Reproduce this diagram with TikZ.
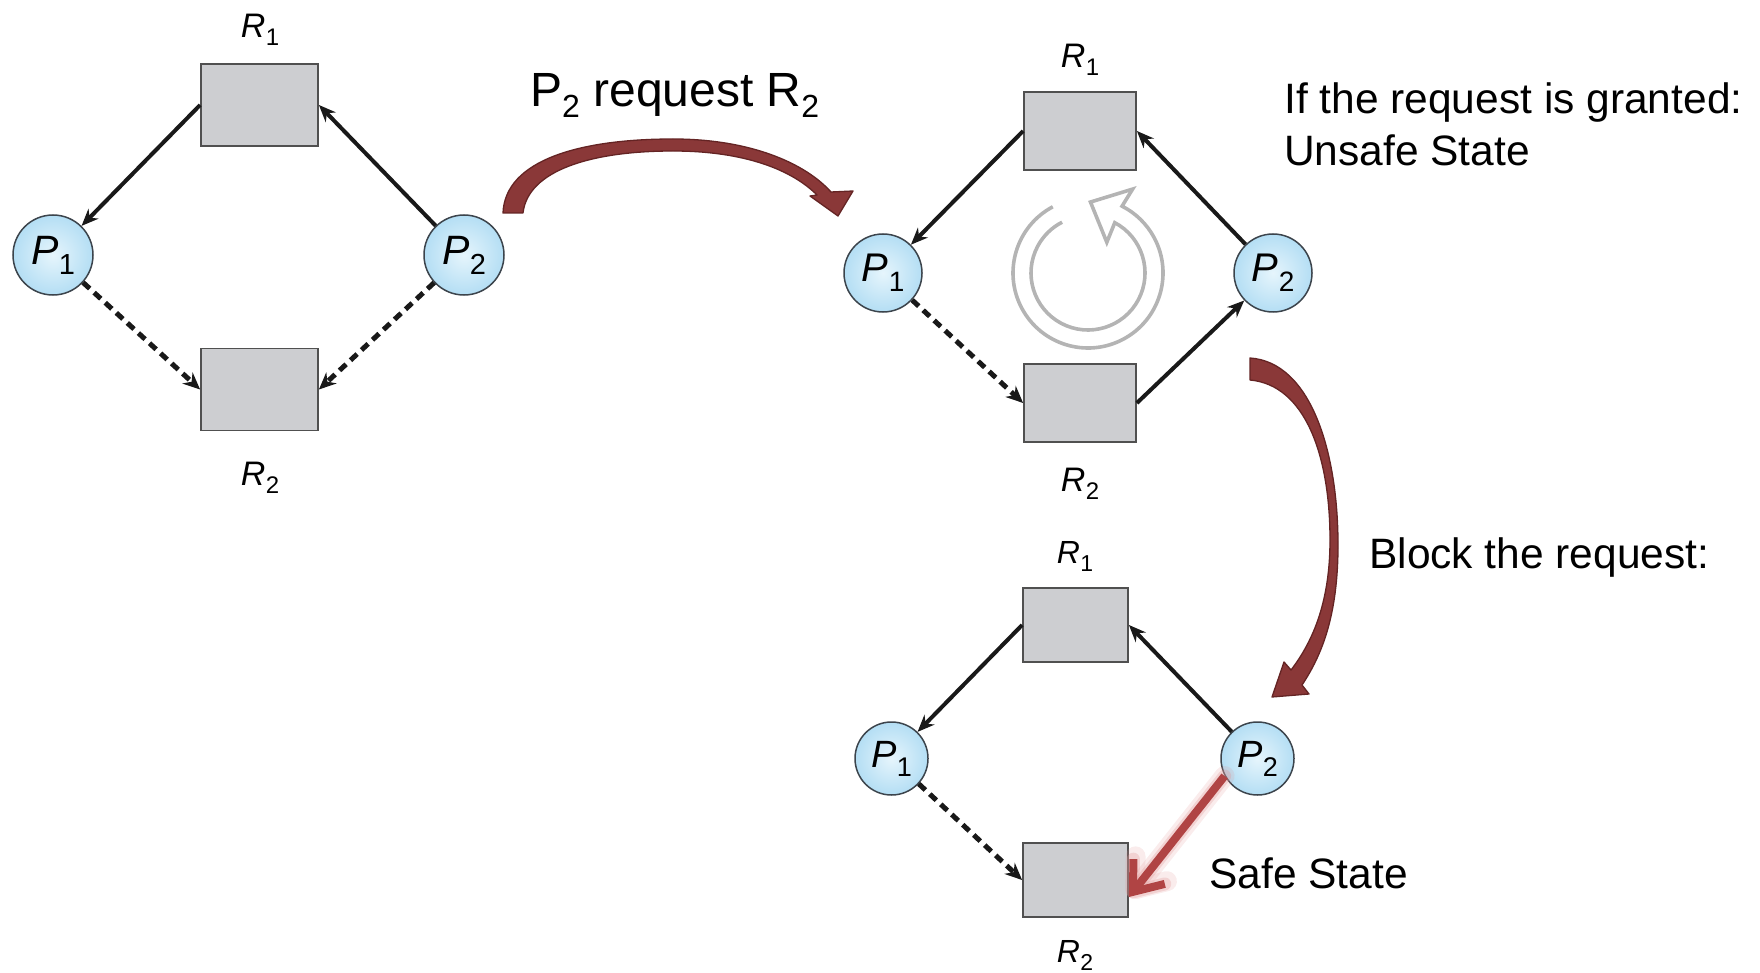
\documentclass[tikz,border=0pt]{standalone}
\usepackage{fontspec}
\setmainfont{Liberation Sans}
\usetikzlibrary{arrows.meta,calc}
\definecolor{boxfill}{RGB}{205,206,209}
\definecolor{boxline}{RGB}{80,80,80}
\definecolor{procin}{RGB}{230,245,252}
\definecolor{procout}{RGB}{180,222,244}
\definecolor{procline}{RGB}{60,68,76}
\definecolor{bigred}{RGB}{138,56,56}
\definecolor{bigredline}{RGB}{100,36,36}
\definecolor{safered}{RGB}{176,68,68}
\definecolor{glowred}{RGB}{225,150,150}
\definecolor{cyclegray}{RGB}{180,180,180}
\definecolor{edgeblack}{RGB}{25,25,25}
\newcommand\lab[5]{{\fontsize{#3}{#3}\selectfont\itshape #1}\kern0.5pt\raisebox{-#5pt}{\fontsize{#4}{#4}\selectfont #2}}
\newcommand\sbs[1]{\raisebox{-11pt}{\fontsize{32}{32}\selectfont #1}}
\begin{document}
\begin{tikzpicture}[x=1pt,y=-1pt,
  resA/.style={draw=boxline,line width=1.8pt,fill=boxfill,minimum width=117pt,minimum height=82pt,inner sep=0pt},
  resB/.style={resA,minimum width=112pt,minimum height=78pt},
  resC/.style={resA,minimum width=105pt,minimum height=74pt},
  procA/.style={circle,draw=procline,line width=1.5pt,inner color=procin,outer color=procout,minimum size=80pt,inner sep=0pt},
  procB/.style={procA,minimum size=78pt},
  procC/.style={procA,minimum size=73pt},
  lbl/.style={inner sep=0pt},
  held/.style={edgeblack,line width=4pt,-{Stealth[length=17pt,width=14pt]}},
  req/.style={edgeblack,line width=5pt,dash pattern=on 9pt off 6pt,-{Stealth[length=17pt,width=15pt]}},
  bigtext/.style={font=\fontsize{42.5}{51}\selectfont,anchor=base west,inner sep=0pt},
  titletext/.style={font=\fontsize{48}{56}\selectfont,anchor=base west,inner sep=0pt},
  bigarrow/.style={fill=bigred,draw=bigredline,line width=1.3pt,line join=round},
  safe/.style={line width=8pt,safered,-{Straight Barb[length=26pt,width=40pt]}},
  glowA/.style={line width=20pt,glowred,opacity=0.18,line cap=round,-{Straight Barb[length=26pt,width=40pt,round]}},
  glowB/.style={line width=13pt,glowred,opacity=0.3,line cap=round,-{Straight Barb[length=26pt,width=40pt,round]}}
]
\useasboundingbox (0,0) rectangle (1760,973);

% ---------- diagram 1 ----------
\node[resA] (A-R1) at (259.5,105) {};
\node[resA] (A-R2) at (259.5,389.5) {};
\node[procA] (A-P1) at (53,255) {\lab{P}{1}{41}{29}{10}};
\node[procA] (A-P2) at (464,255) {\lab{P}{2}{41}{29}{10}};
\node[lbl] (A-L1) at (260,30) {\lab{R}{1}{34}{24}{8}};
\node[lbl] (A-L2) at (260,478) {\lab{R}{2}{34}{24}{8}};
\draw[held] (A-R1.west) -- (A-P1);
\draw[held] (A-P2) -- (A-R1.east);
\draw[req] (A-P1) -- (A-R2.west);
\draw[req] (A-P2) -- (A-R2.east);

% ---------- diagram 2 ----------
\node[resB] (B-R1) at (1080,131) {};
\node[resB] (B-R2) at (1080,403) {};
\node[procB] (B-P1) at (883,273) {\lab{P}{1}{40}{28}{10}};
\node[procB] (B-P2) at (1273,273) {\lab{P}{2}{40}{28}{10}};
\node[lbl] (B-L1) at (1080,60) {\lab{R}{1}{34}{24}{8}};
\node[lbl] (B-L2) at (1080,484) {\lab{R}{2}{34}{24}{8}};
\draw[held] (B-R1.west) -- (B-P1);
\draw[held] (B-P2) -- (B-R1.east);
\draw[req] (B-P1) -- (B-R2.west);
\draw[held] (B-R2.east) -- (B-P2);
\coordinate (cyc) at (1088,273);
\draw[cyclegray,line width=3.6pt,line join=miter]
  ($(cyc)+(-118:75)$) arc[start angle=-118,end angle=-423,radius=75]
  -- ($(cyc)+(-62:95)$) -- ($(cyc)+(-88:71)$) -- ($(cyc)+(-58.5:36)$)
  -- ($(cyc)+(-62:57)$) arc[start angle=-422,end angle=-117,radius=57];

% ---------- diagram 3 ----------
\node[resC] (C-R1) at (1075.5,625) {};
\node[resC] (C-R2) at (1075.5,880) {};
\node[procC] (C-P1) at (891.5,758.5) {\lab{P}{1}{38}{27}{9}};
\node[procC] (C-P2) at (1257.5,758.5) {\lab{P}{2}{38}{27}{9}};
\node[lbl] (C-L1) at (1075,556) {\lab{R}{1}{32}{23}{8}};
\node[lbl] (C-L2) at (1075,955) {\lab{R}{2}{32}{23}{8}};
\draw[held] (C-R1.west) -- (C-P1);
\draw[held] (C-P2) -- (C-R1.east);
\draw[req] (C-P1) -- (C-R2.west);
\coordinate (C-tip) at ($(C-R2.east)+(0,17)$);
\draw[glowA] (C-P2.208) -- (C-tip);
\draw[glowB] (C-P2.208) -- (C-tip);
\draw[safe] (C-P2.208) -- (C-tip);

% ---------- big curved arrows ----------
\draw[bigarrow] (503,213) .. controls (505,160) and (580,139) .. (673,139)
  .. controls (750,139) and (805,163) .. (831,192)
  -- (853,191) -- (838,216) -- (810,196) -- (817,195)
  .. controls (792,170) and (745,151) .. (673,151)
  .. controls (592,151) and (528,170) .. (523,213) -- cycle;
\draw[bigarrow] (1250,358) .. controls (1310,362) and (1338,450) .. (1338,545)
  .. controls (1338,615) and (1322,655) .. (1302,685)
  -- (1309,694) -- (1272,697) -- (1284,662) -- (1291,670)
  .. controls (1314,640) and (1330,600) .. (1330,540)
  .. controls (1330,455) and (1305,385) .. (1250,380) -- cycle;

% ---------- texts ----------
\node[titletext] (t1) at (530,107) {P\sbs{2} request R\sbs{2}};
\node[bigtext] (t2) at (1284,114) {If the request is granted:};
\node[bigtext] (t3) at (1284,166) {Unsafe State};
\node[bigtext] (t4) at (1369,568) {Block the request:};
\node[bigtext] (t5) at (1209,888) {Safe State};
\end{tikzpicture}
\end{document}
